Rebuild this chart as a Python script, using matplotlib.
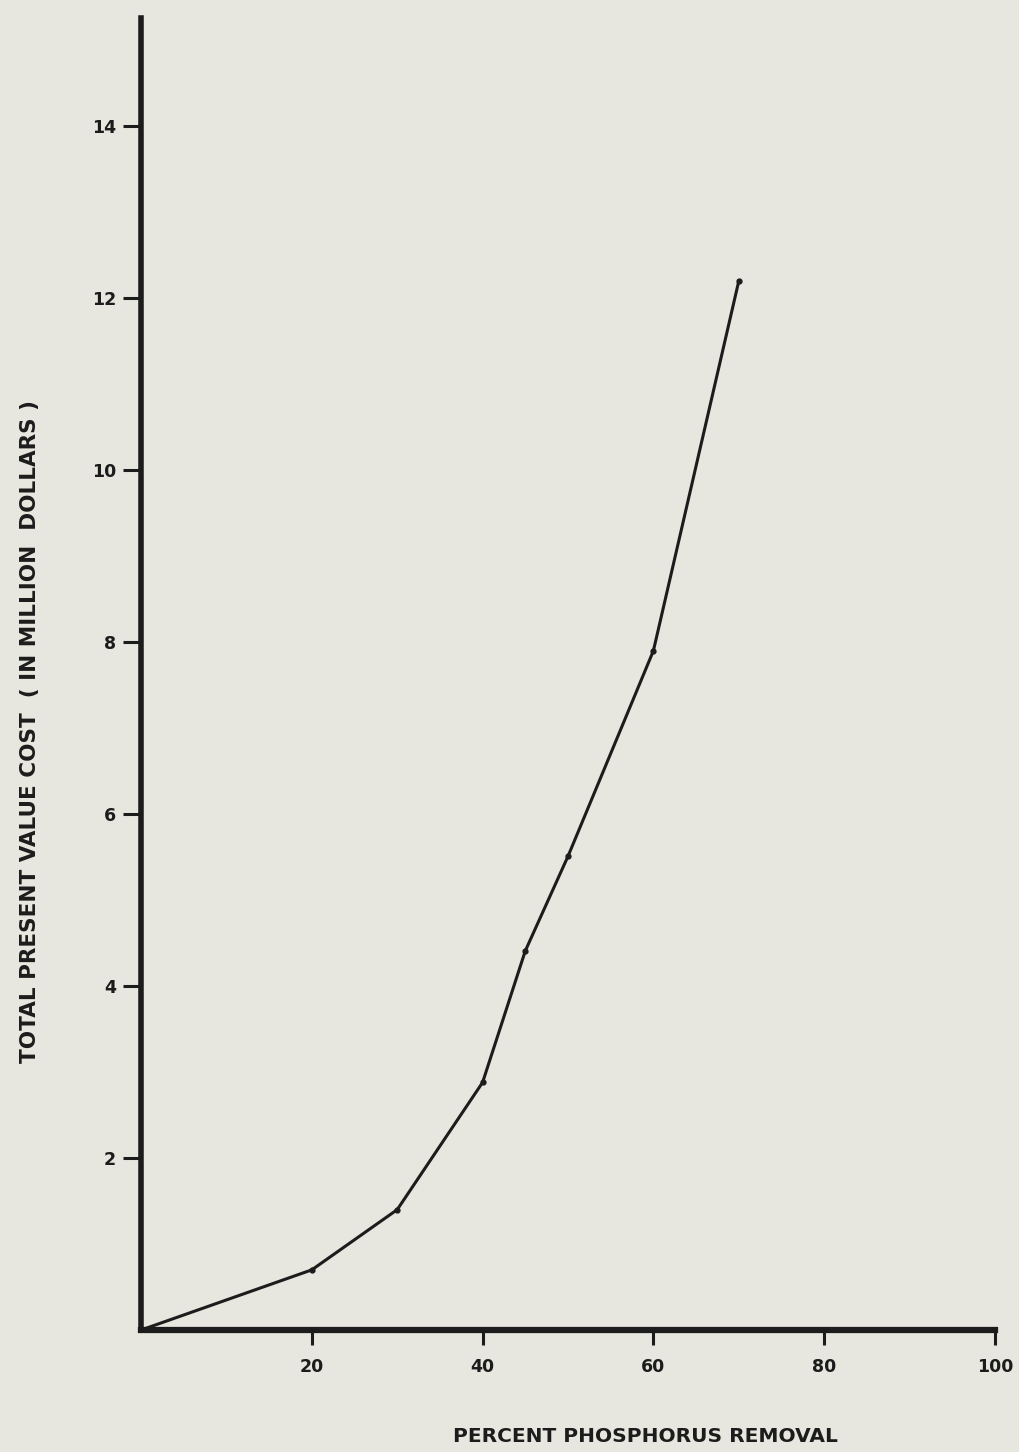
import matplotlib.pyplot as plt

# percent phosphorus removal vs total present value cost (million $)
removal = [0, 20, 30, 40, 45, 50, 60, 70]
cost = [0, 0.70, 1.40, 2.88, 4.41, 5.51, 7.90, 12.2]

x_ticks = [20, 40, 60, 80, 100]
y_ticks = [2, 4, 6, 8, 10, 12, 14]

bg = "#e7e7df"
ink = "#1c1c1c"

fig = plt.figure(figsize=(10.19, 14.52), dpi=100, facecolor=bg)
ax = fig.add_axes([0.1384, 0.084, 0.838, 0.9036], facecolor=bg)

ax.plot(removal, cost, color=ink, lw=2.2, marker="o", markersize=3.5,
        solid_joinstyle="round")

ax.set_xlim(0, 100)
ax.set_ylim(0, 15.26)
ax.set_xticks(x_ticks)
ax.set_yticks(y_ticks)
ax.set_xticklabels([str(v) for v in x_ticks], fontweight="bold", fontsize=12.5)
ax.set_yticklabels([str(v) for v in y_ticks], fontweight="bold", fontsize=12.5)
ax.tick_params(axis="y", direction="out", length=13, width=2.2, color=ink,
               labelcolor=ink, pad=5)
ax.tick_params(axis="x", direction="out", length=11, width=2.2, color=ink,
               labelcolor=ink, pad=9)

for s in ["top", "right"]:
    ax.spines[s].set_visible(False)
ax.spines["left"].set_linewidth(4)
ax.spines["bottom"].set_linewidth(4.5)
ax.spines["left"].set_color(ink)
ax.spines["bottom"].set_color(ink)
ax.spines["left"].set_capstyle("projecting")
ax.spines["bottom"].set_capstyle("projecting")

fig.text(0.029, 0.496, "TOTAL PRESENT VALUE COST  ( IN MILLION  DOLLARS )",
         rotation=90, ha="center", va="center", fontweight="bold",
         fontsize=15.5, color=ink)
fig.text(0.633, 0.004, "PERCENT PHOSPHORUS REMOVAL", ha="center",
         va="bottom", fontweight="bold", fontsize=14.5, color=ink)

plt.savefig("out.png", dpi=100, facecolor=bg)
